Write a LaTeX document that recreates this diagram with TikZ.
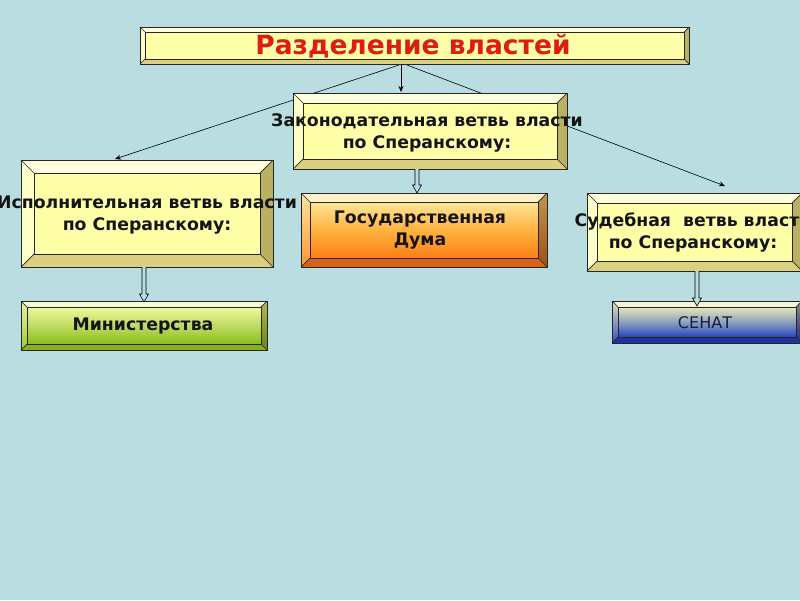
\documentclass[tikz,border=0pt]{standalone}
\usepackage{fontspec}
\setmainfont{DejaVu Sans}
\usetikzlibrary{calc,arrows.meta}
\pgfdeclarelayer{bg}
\pgfdeclarelayer{lines}
\pgfsetlayers{bg,lines,main}
\definecolor{bgc}{RGB}{185,221,224}
\definecolor{yface}{RGB}{255,255,168}
\definecolor{ytop}{RGB}{255,255,222}
\definecolor{yleft}{RGB}{255,255,200}
\definecolor{yright}{RGB}{186,176,98}
\definecolor{ybot}{RGB}{218,208,128}
\definecolor{titlered}{RGB}{222,28,20}
\definecolor{navytext}{RGB}{20,30,60}
\tikzset{
  boxn/.style={rectangle, inner sep=0pt, outer sep=0pt},
  edge/.style={draw=black!85, line width=0.7pt},
  conn/.style={draw=black, line width=0.6pt, -{Stealth[length=6pt,width=5pt]}},
  harrowst/.style={draw=black, line width=0.6pt, fill=bgc},
  lbl/.style={align=center, font=\fontsize{17.3}{22}\selectfont\bfseries, text=black!92},
}
% #1 name, #2 bevel, #3 face, #4 top, #5 left, #6 right, #7 bottom
\newcommand\bevelbox[7]{%
  \path[#4] (#1.north west) -- (#1.north east) -- ($(#1.north east)+(-#2,#2)$) -- ($(#1.north west)+(#2,#2)$) -- cycle;
  \path[#5] (#1.north west) -- ($(#1.north west)+(#2,#2)$) -- ($(#1.south west)+(#2,-#2)$) -- (#1.south west) -- cycle;
  \path[#6] (#1.north east) -- ($(#1.north east)+(-#2,#2)$) -- ($(#1.south east)+(-#2,-#2)$) -- (#1.south east) -- cycle;
  \path[#7] (#1.south west) -- ($(#1.south west)+(#2,-#2)$) -- ($(#1.south east)+(-#2,-#2)$) -- (#1.south east) -- cycle;
  \path[#3] ($(#1.north west)+(#2,#2)$) rectangle ($(#1.south east)+(-#2,-#2)$);
  \draw[edge] (#1.north west) rectangle (#1.south east);
  \draw[edge] ($(#1.north west)+(#2,#2)$) rectangle ($(#1.south east)+(-#2,-#2)$);
  \draw[edge] (#1.north west) -- ($(#1.north west)+(#2,#2)$);
  \draw[edge] (#1.north east) -- ($(#1.north east)+(-#2,#2)$);
  \draw[edge] (#1.south west) -- ($(#1.south west)+(#2,-#2)$);
  \draw[edge] (#1.south east) -- ($(#1.south east)+(-#2,-#2)$);
}
\newcommand\ybox[2]{\bevelbox{#1}{#2}{fill=yface}{fill=ytop}{fill=yleft}{fill=yright}{fill=ybot}}
\newcommand\harrow[2]{%
  \draw[harrowst] let \p1=(#1), \p2=(#2) in
    (\x1-2pt,\y1) -- (\x1-2pt,\y2+8pt) -- (\x1-4.5pt,\y2+8pt) -- (\x1,\y2)
    -- (\x1+4.5pt,\y2+8pt) -- (\x1+2pt,\y2+8pt) -- (\x1+2pt,\y1);}
\begin{document}
\begin{tikzpicture}[x=1pt,y=-1pt]
\begin{pgfonlayer}{bg}
  \fill[bgc] (0,0) rectangle (800,600);
\end{pgfonlayer}
\useasboundingbox (0,0) rectangle (800,600);
\clip (0,0) rectangle (800,600);

% box frames
\node[boxn, minimum width=549pt, minimum height=37pt] (title) at (414.5,45.5) {};
\node[boxn, minimum width=274pt, minimum height=76pt] (leg) at (430,131) {};
\node[boxn, minimum width=252pt, minimum height=107pt] (exec) at (147,213.5) {};
\node[boxn, minimum width=246pt, minimum height=74pt] (duma) at (424,230) {};
\node[boxn, minimum width=215pt, minimum height=78pt] (jud) at (694.5,232) {};
\node[boxn, minimum width=246pt, minimum height=49pt] (mini) at (144,325.5) {};
\node[boxn, minimum width=190pt, minimum height=42pt] (sen) at (707,322) {};

% thin connectors (behind boxes)
\begin{pgfonlayer}{lines}
  \draw[conn] ($(title.south)+(-13.5,0)$) -- ($(leg.north)+(-29,-1)$);
  \draw[conn] ($(title.south)+(-15.5,1)$) -- ($(exec.north)+(-32,-1)$);
  \draw[conn] ($(title.south)+(-7.5,1)$) -- ($(jud.north)+(30.5,-7)$);
\end{pgfonlayer}

% beveled boxes
\ybox{title}{5}
\ybox{leg}{10}
\ybox{exec}{13}
\ybox{jud}{10}
\bevelbox{duma}{9}
  {top color={rgb,255:red,255;green,230;blue,150}, bottom color={rgb,255:red,250;green,128;blue,20}, middle color={rgb,255:red,255;green,178;blue,64}}
  {fill={rgb,255:red,255;green,242;blue,200}}
  {top color={rgb,255:red,255;green,228;blue,160}, bottom color={rgb,255:red,255;green,150;blue,50}}
  {top color={rgb,255:red,190;green,150;blue,80}, bottom color={rgb,255:red,160;green,80;blue,16}}
  {fill={rgb,255:red,214;green,100;blue,20}}
\bevelbox{mini}{6}
  {top color={rgb,255:red,240;green,248;blue,160}, bottom color={rgb,255:red,140;green,190;blue,30}}
  {fill={rgb,255:red,248;green,252;blue,210}}
  {top color={rgb,255:red,235;green,245;blue,170}, bottom color={rgb,255:red,160;green,200;blue,50}}
  {top color={rgb,255:red,180;green,180;blue,90}, bottom color={rgb,255:red,110;green,130;blue,20}}
  {fill={rgb,255:red,140;green,176;blue,24}}
\bevelbox{sen}{6}
  {top color={rgb,255:red,232;green,232;blue,186}, bottom color={rgb,255:red,36;green,70;blue,196}, middle color={rgb,255:red,140;green,160;blue,190}}
  {fill={rgb,255:red,244;green,244;blue,216}}
  {top color={rgb,255:red,225;green,225;blue,190}, bottom color={rgb,255:red,50;green,80;blue,190}}
  {top color={rgb,255:red,140;green,140;blue,130}, bottom color={rgb,255:red,30;green,45;blue,130}}
  {fill={rgb,255:red,32;green,52;blue,160}}

% hollow arrows
\harrow{$(leg.south)+(-13,0)$}{$(duma.north)+(-7,0)$}
\harrow{$(exec.south)+(-3,0)$}{$(mini.north)+(0,1)$}
\harrow{$(jud.south)+(2.5,0)$}{$(sen.north)+(-10,5)$}

% texts
\node[font=\fontsize{26.5}{30}\selectfont\bfseries, text=titlered] (titlet) at (413,46.5) {Разделение властей};
\node[lbl] (legt) at (427,132.5) {Законодательная ветвь власти\\по Сперанскому:};
\node[lbl] (exect) at (147,215.5) {Исполнительная ветвь власти\\по Сперанскому:};
\node[lbl] (dumat) at (420,230.5) {Государственная\\Дума};
\node[lbl] (judt) at (693,233) {Судебная\ \ ветвь власти\\по Сперанскому:};
\node[lbl] (minit) at (143,326) {Министерства};
\node[font=\fontsize{16}{20}\selectfont, text=navytext] (sent) at (705,322.5) {СЕНАТ};
\end{tikzpicture}
\end{document}
